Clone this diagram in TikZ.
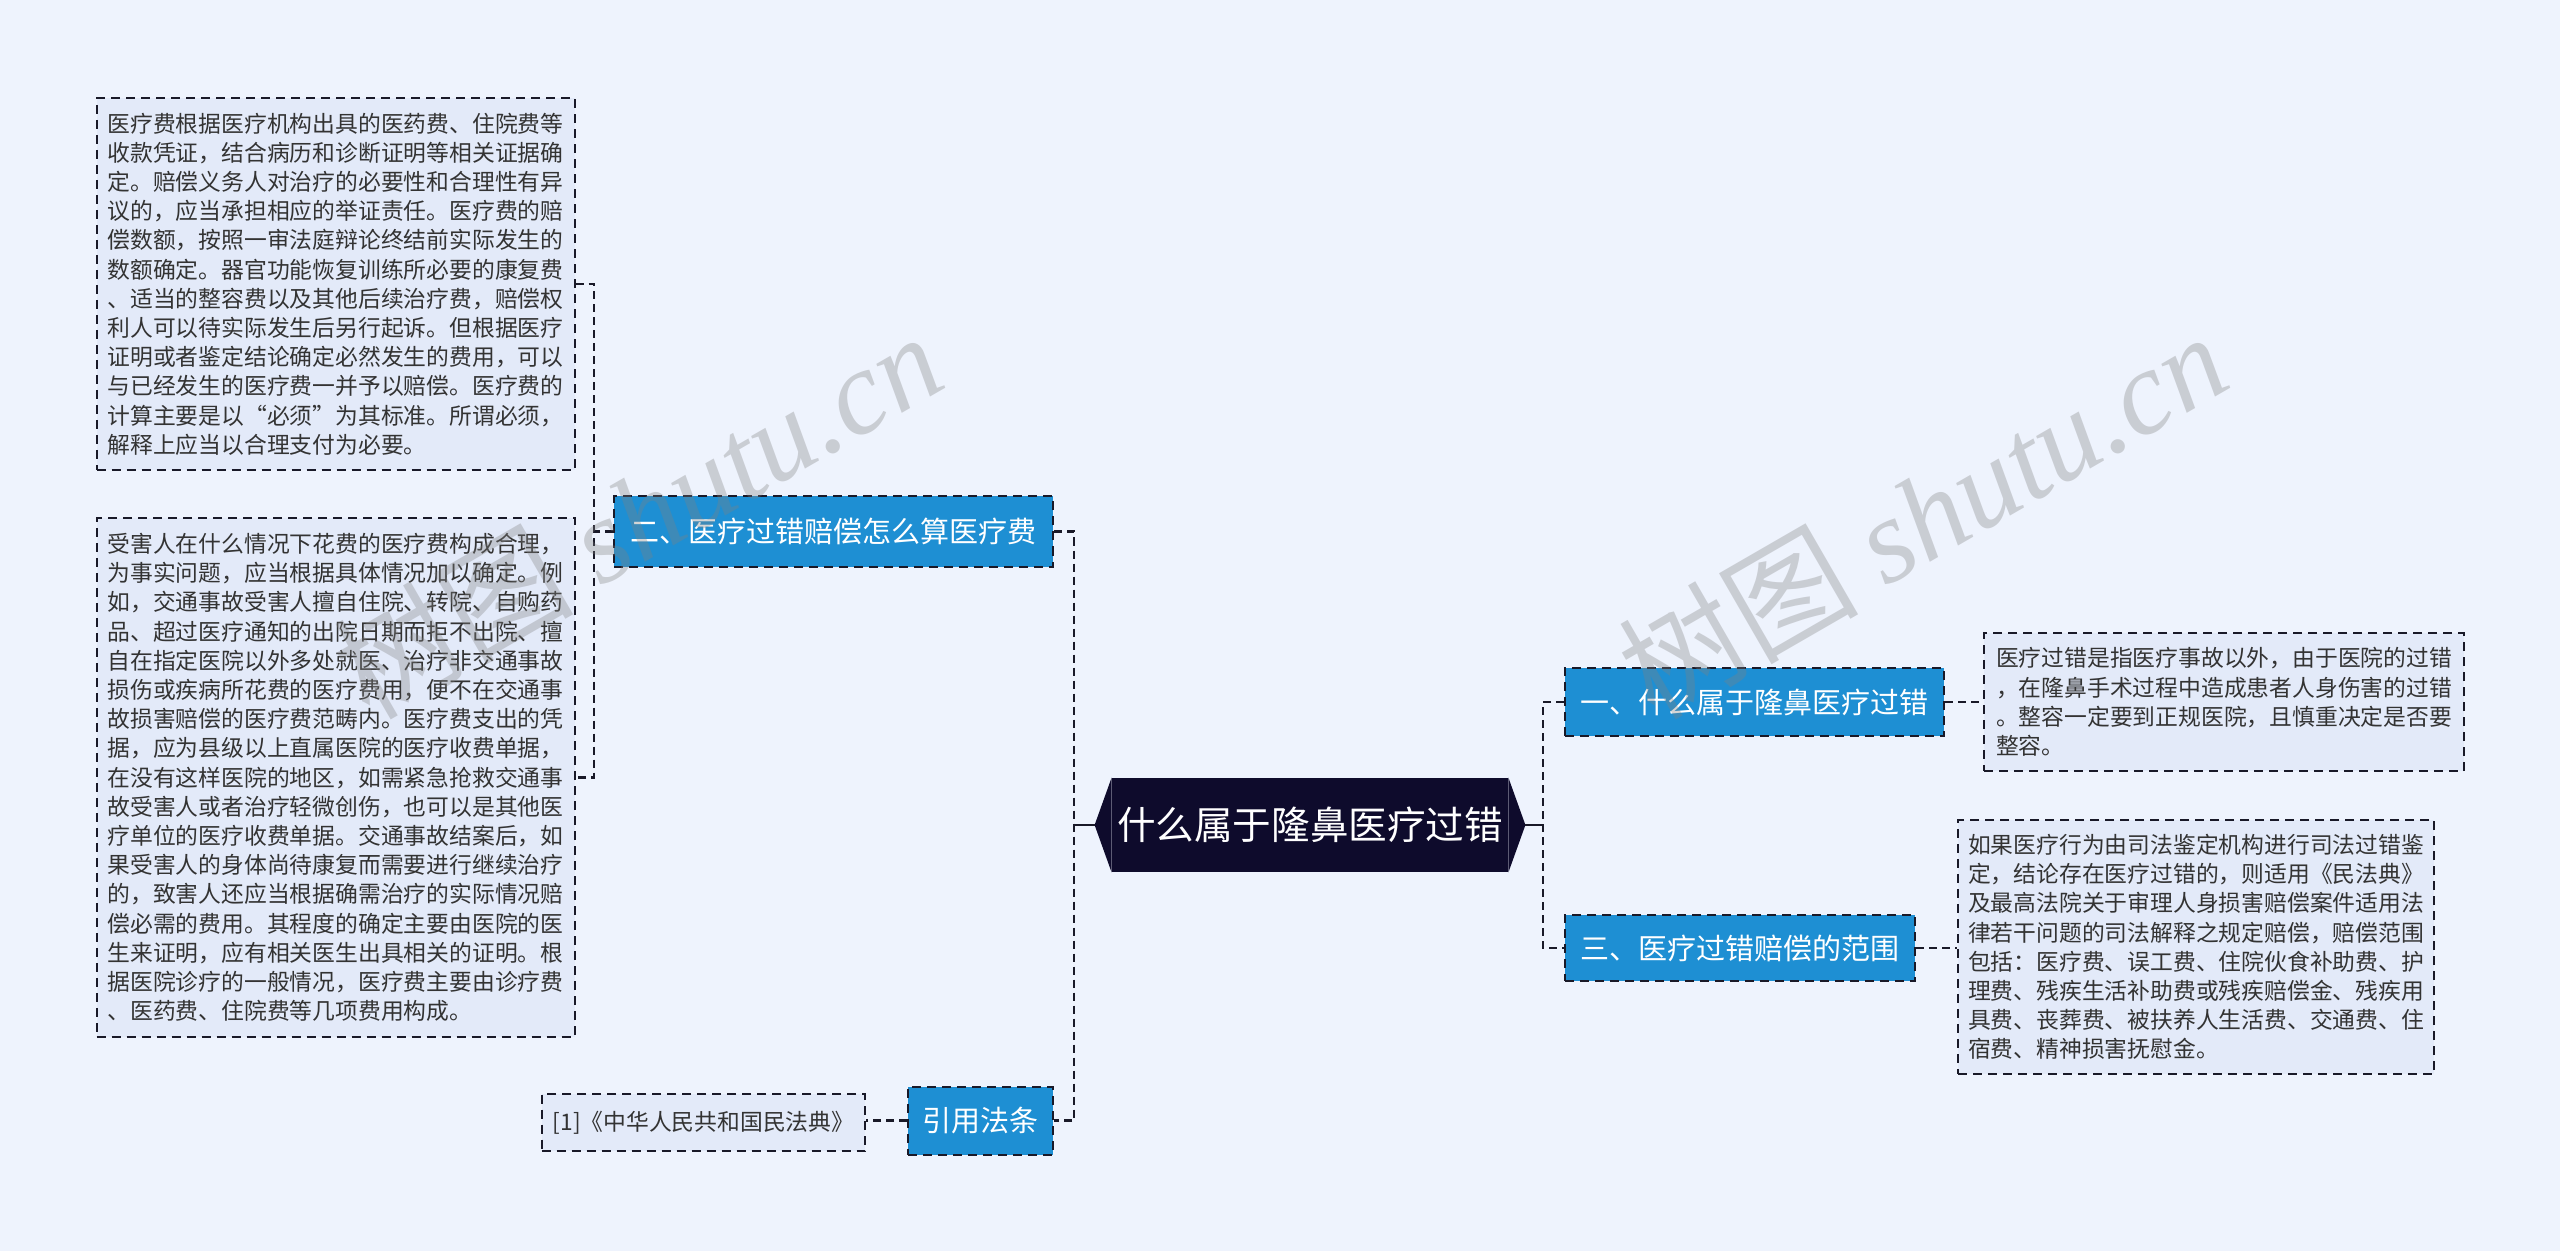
\documentclass[tikz,border=0pt]{standalone}
\usepackage{fontspec}
\usepackage{graphicx}
\setmainfont{Noto Sans CJK SC}
\newfontfamily\wmfont{Liberation Serif}
\usetikzlibrary{calc}
\definecolor{bgc}{RGB}{238,243,253}
\definecolor{boxfill}{RGB}{227,234,249}
\definecolor{branchfill}{RGB}{30,143,211}
\definecolor{centerfill}{RGB}{14,11,44}
\definecolor{linec}{RGB}{25,25,40}
\definecolor{txt}{RGB}{51,51,51}
\tikzset{
  textbox/.style={draw=linec, line width=1pt, dash pattern=on 4.5pt off 3pt, fill=boxfill, text=txt,
    font=\fontsize{11.4pt}{14.6pt}\selectfont, align=left, text width=228pt, inner xsep=5.5pt, inner ysep=0pt},
  branchbox/.style={draw=linec, line width=1pt, dash pattern=on 4.5pt off 3pt, fill=branchfill, text=white,
    font=\fontsize{14.5pt}{16pt}\selectfont, inner sep=0pt},
  conn/.style={draw=linec, line width=1.25pt, dash pattern=on 4pt off 2.5pt},
  solidconn/.style={draw=linec, line width=1.25pt},
  wmark/.style={rotate=30, text=gray, text opacity=0.33, font=\fontsize{60pt}{60pt}\selectfont}
}
\begin{document}
\begin{tikzpicture}[x=0.5pt,y=-0.5pt]
\useasboundingbox (0,0) rectangle (2560,1251);
\fill[bgc] (0,0) rectangle (2560,1251);

% center
\node[fill=centerfill, text=white, minimum width=198pt, minimum height=47pt, inner sep=0pt,
      font=\fontsize{21.5pt}{24pt}\selectfont] (ctr) at (1310,825) {\resizebox{193pt}{!}{什么属于隆鼻医疗过错}};
\fill[centerfill] (ctr.north west) -- ([xshift=-8.5pt]ctr.west) -- (ctr.south west) -- cycle;
\fill[centerfill] (ctr.north east) -- ([xshift=8.5pt]ctr.east) -- (ctr.south east) -- cycle;
\coordinate (ctrW) at ([xshift=-8.5pt]ctr.west);
\coordinate (ctrE) at ([xshift=8.5pt]ctr.east);

% branches
\node[branchbox, minimum width=219.5pt, minimum height=35pt] (b2) at (833.5,531.5) {二、医疗过错赔偿怎么算医疗费};
\node[branchbox, minimum width=72.5pt, minimum height=34pt] (cite) at (980.5,1120.5) {引用法条};
\node[branchbox, minimum width=189.5pt, minimum height=34pt] (b1) at (1754.5,702) {一、什么属于隆鼻医疗过错};
\node[branchbox, minimum width=175pt, minimum height=33pt] (b3) at (1740,948) {三、医疗过错赔偿的范围};

% leaves
\node[textbox, minimum height=186pt] (L1) at (335.5,284) {医疗费根据医疗机构出具的医药费、住院费等\\
收款凭证，结合病历和诊断证明等相关证据确\\
定。赔偿义务人对治疗的必要性和合理性有异\\
议的，应当承担相应的举证责任。医疗费的赔\\
偿数额，按照一审法庭辩论终结前实际发生的\\
数额确定。器官功能恢复训练所必要的康复费\\
、适当的整容费以及其他后续治疗费，赔偿权\\
利人可以待实际发生后另行起诉。但根据医疗\\
证明或者鉴定结论确定必然发生的费用，可以\\
与已经发生的医疗费一并予以赔偿。医疗费的\\
计算主要是以“必须”为其标准。所谓必须，\\
解释上应当以合理支付为必要。};

\node[textbox, minimum height=259.5pt] (L2) at (335.5,777.5) {受害人在什么情况下花费的医疗费构成合理，\\
为事实问题，应当根据具体情况加以确定。例\\
如，交通事故受害人擅自住院、转院、自购药\\
品、超过医疗通知的出院日期而拒不出院、擅\\
自在指定医院以外多处就医、治疗非交通事故\\
损伤或疾病所花费的医疗费用，便不在交通事\\
故损害赔偿的医疗费范畴内。医疗费支出的凭\\
据，应为县级以上直属医院的医疗收费单据，\\
在没有这样医院的地区，如需紧急抢救交通事\\
故受害人或者治疗轻微创伤，也可以是其他医\\
疗单位的医疗收费单据。交通事故结案后，如\\
果受害人的身体尚待康复而需要进行继续治疗\\
的，致害人还应当根据确需治疗的实际情况赔\\
偿必需的费用。其程度的确定主要由医院的医\\
生来证明，应有相关医生出具相关的证明。根\\
据医院诊疗的一般情况，医疗费主要由诊疗费\\
、医药费、住院费等几项费用构成。};

\node[textbox, inner xsep=6pt, minimum height=69pt] (R1) at (2224,702) {医疗过错是指医疗事故以外，由于医院的过错\\
，在隆鼻手术过程中造成患者人身伤害的过错\\
。整容一定要到正规医院，且慎重决定是否要\\
整容。};

\node[textbox, inner xsep=5pt, minimum height=127pt] (R2) at (2196,947) {如果医疗行为由司法鉴定机构进行司法过错鉴\\
定，结论存在医疗过错的，则适用《民法典》\\
及最高法院关于审理人身损害赔偿案件适用法\\
律若干问题的司法解释之规定赔偿，赔偿范围\\
包括：医疗费、误工费、住院伙食补助费、护\\
理费、残疾生活补助费或残疾赔偿金、残疾用\\
具费、丧葬费、被扶养人生活费、交通费、住\\
宿费、精神损害抚慰金。};

\node[textbox, text width=, align=center, minimum width=161.5pt, minimum height=28.5pt] (ref) at (703.5,1122.5) {[1]《中华人民共和国民法典》};

% junctions
\coordinate (jl) at (1074,825);
\coordinate (jr) at (1543,825);
\coordinate (jb) at (594,531.5);

% connectors
\draw[solidconn] (ctrW) -- (jl);
\draw[conn] (b2.east) -| (jl) |- (cite.east);
\draw[solidconn] (ctrE) -- (jr);
\draw[conn] (b1.west) -| (jr) |- (b3.west);
\draw[conn] (b2.west) -- (jb);
\draw[conn] (L1.east) -| (jb) |- (L2.east);
\draw[conn] (cite.west) -- (cite.west -| ref.east);
\draw[conn] (b1.east) -- (b1.east -| R1.west);
\draw[conn] (b3.east) -- (b3.east -| R2.west);

% watermark
\node[wmark] (wm1) at (637,514) {树图 {\wmfont\itshape shutu.cn}};
\node[wmark] (wm2) at (1922,514) {树图 {\wmfont\itshape shutu.cn}};
\end{tikzpicture}
\end{document}
